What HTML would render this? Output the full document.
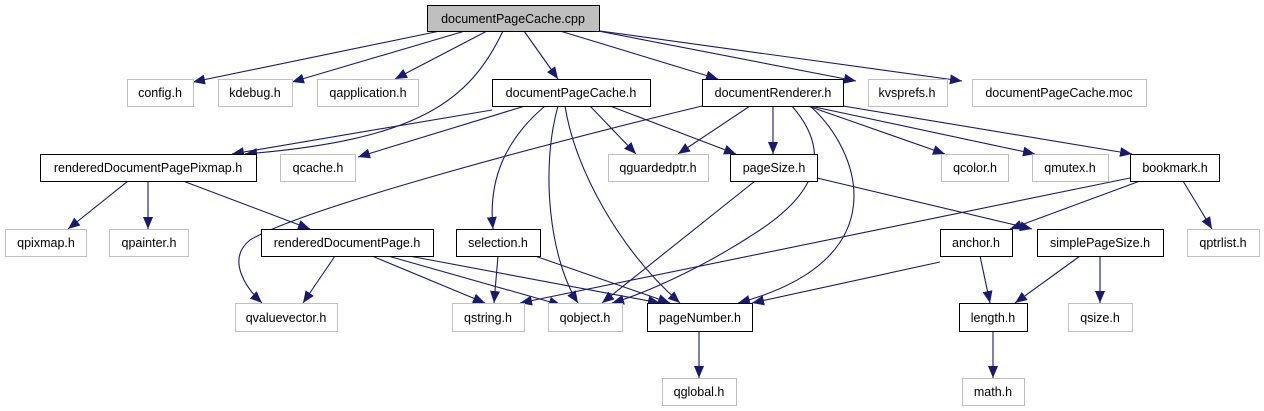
<!DOCTYPE html>
<html><head><meta charset="utf-8"><style>
html,body{margin:0;padding:0;background:#fff;width:1264px;height:411px;overflow:hidden}
svg text{font-family:"Liberation Sans",sans-serif;font-size:12.5px;fill:#000}
</style></head><body>
<svg width="1264" height="411" viewBox="0 0 1264 411" xmlns="http://www.w3.org/2000/svg">
<defs><marker id="a" viewBox="0 0 12 10" refX="12" refY="5" markerWidth="12" markerHeight="10" markerUnits="userSpaceOnUse" orient="auto"><path d="M0,0 L12,5 L0,10 z" fill="#191970"/></marker></defs>
<g fill="none" stroke="#191970" stroke-width="1.1" marker-end="url(#a)">
<path d="M440,31 L193,82"/>
<path d="M465,31 L292,82"/>
<path d="M487,31 L395,79"/>
<path d="M503,31 C470,100 420,140 245,154"/>
<path d="M524,31 L558,79"/>
<path d="M560,31 L718,79"/>
<path d="M598,31 L856,81"/>
<path d="M600,31 L962,81"/>
<path d="M492,110 L232,154"/>
<path d="M525,106 L358,157"/>
<path d="M545,106 C505,140 488,180 493,229"/>
<path d="M558,106 C540,170 550,260 578,303"/>
<path d="M565,106 C575,170 620,250 680,303"/>
<path d="M590,106 L636,154"/>
<path d="M610,106 L736,154"/>
<path d="M702,106 C520,150 300,210 250,240 C225,260 248,290 262,303"/>
<path d="M750,106 L678,154"/>
<path d="M773,106 L773,154"/>
<path d="M792,106 C830,150 820,190 760,230 C700,270 640,295 612,303"/>
<path d="M810,106 C860,150 900,260 738,303"/>
<path d="M808,106 L945,154"/>
<path d="M810,106 L1035,154"/>
<path d="M843,106 L1132,154"/>
<path d="M755,181 L602,303"/>
<path d="M817,178 L1032,229"/>
<path d="M1130,178 L520,303"/>
<path d="M1140,181 L1010,229"/>
<path d="M1183,181 L1212,229"/>
<path d="M128,181 L68,229"/>
<path d="M148,181 L148,229"/>
<path d="M183,181 L310,229"/>
<path d="M335,256 L303,303"/>
<path d="M372,256 L485,303"/>
<path d="M388,256 L561,305"/>
<path d="M409,256 L660,303"/>
<path d="M498,256 L494,303"/>
<path d="M535,256 L670,303"/>
<path d="M940,262 L752,303"/>
<path d="M980,256 L990,303"/>
<path d="M1080,256 L1015,303"/>
<path d="M1100,256 L1100,303"/>
<path d="M699,331 L699,378"/>
<path d="M993,331 L993,378"/>
</g>
<g stroke-width="1">
<rect x="427.5" y="5.5" width="172" height="26" fill="#bfbfbf" stroke="#000"/>
<g fill="#fff" stroke="#bfbfbf">
<rect x="127.5" y="79.5" width="66" height="27"/>
<rect x="218.5" y="79.5" width="74" height="27"/>
<rect x="317.5" y="79.5" width="101" height="27"/>
<rect x="868.5" y="79.5" width="79" height="27"/>
<rect x="972.5" y="79.5" width="174" height="27"/>
<rect x="280.5" y="154.5" width="75" height="27"/>
<rect x="608.5" y="154.5" width="100" height="27"/>
<rect x="941.5" y="154.5" width="67" height="27"/>
<rect x="1032.5" y="154.5" width="76" height="27"/>
<rect x="5.5" y="229.5" width="81" height="27"/>
<rect x="109.5" y="229.5" width="79" height="27"/>
<rect x="1187.5" y="229.5" width="72" height="27"/>
<rect x="235.5" y="303.5" width="102" height="28"/>
<rect x="452.5" y="303.5" width="72" height="28"/>
<rect x="548.5" y="303.5" width="74" height="28"/>
<rect x="1068.5" y="303.5" width="64" height="28"/>
<rect x="662.5" y="378.5" width="74" height="27"/>
<rect x="962.5" y="378.5" width="62" height="27"/>
</g>
<g fill="#fff" stroke="#000">
<rect x="492.5" y="79.5" width="158" height="27"/>
<rect x="702.5" y="79.5" width="141" height="27"/>
<rect x="40.5" y="154.5" width="216" height="27"/>
<rect x="730.5" y="154.5" width="87" height="27"/>
<rect x="1130.5" y="154.5" width="89" height="27"/>
<rect x="261.5" y="229.5" width="172" height="27"/>
<rect x="456.5" y="229.5" width="84" height="27"/>
<rect x="940.5" y="229.5" width="72" height="27"/>
<rect x="1037.5" y="229.5" width="126" height="27"/>
<rect x="647.5" y="303.5" width="105" height="28"/>
<rect x="959.5" y="303.5" width="68" height="28"/>
</g>
</g>
<g text-anchor="middle">
<text x="513" y="23">documentPageCache.cpp</text>
<text x="160" y="97">config.h</text>
<text x="255" y="97">kdebug.h</text>
<text x="368" y="97">qapplication.h</text>
<text x="571" y="97">documentPageCache.h</text>
<text x="773" y="97">documentRenderer.h</text>
<text x="907" y="97">kvsprefs.h</text>
<text x="1059" y="97">documentPageCache.moc</text>
<text x="148" y="172">renderedDocumentPagePixmap.h</text>
<text x="318" y="172">qcache.h</text>
<text x="658" y="172">qguardedptr.h</text>
<text x="774" y="172">pageSize.h</text>
<text x="975" y="172">qcolor.h</text>
<text x="1070" y="172">qmutex.h</text>
<text x="1175" y="172">bookmark.h</text>
<text x="46" y="247">qpixmap.h</text>
<text x="149" y="247">qpainter.h</text>
<text x="347" y="247">renderedDocumentPage.h</text>
<text x="498" y="247">selection.h</text>
<text x="976" y="247">anchor.h</text>
<text x="1100" y="247">simplePageSize.h</text>
<text x="1223" y="247">qptrlist.h</text>
<text x="286" y="322">qvaluevector.h</text>
<text x="488" y="322">qstring.h</text>
<text x="585" y="322">qobject.h</text>
<text x="700" y="322">pageNumber.h</text>
<text x="993" y="322">length.h</text>
<text x="1100" y="322">qsize.h</text>
<text x="699" y="396">qglobal.h</text>
<text x="993" y="396">math.h</text>
</g>
</svg>
</body></html>
